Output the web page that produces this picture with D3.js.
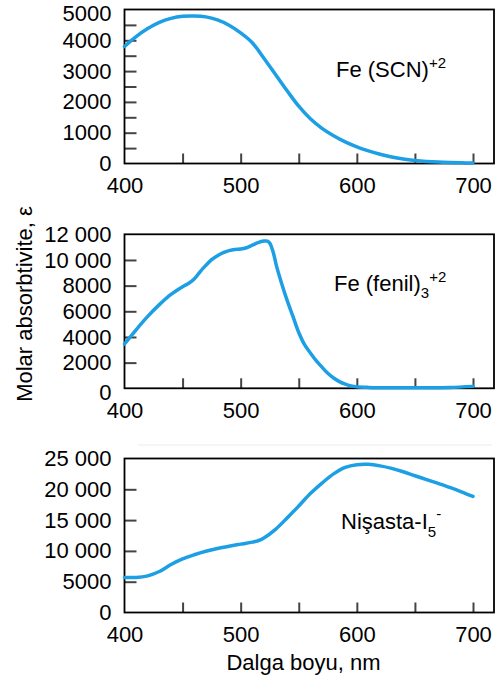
<!DOCTYPE html>
<html>
<head>
<meta charset="utf-8">
<script src="https://cdn.jsdelivr.net/npm/d3@7"></script>
<style>
  body { margin: 0; background: #fff; }
  text { font-family: "Liberation Sans", Arial, sans-serif; }
</style>
</head>
<body>
<svg id="chart" width="499" height="681"></svg>
<script>
// spectra (wavelength in nm, molar absorptivity)
const scnWave = [400,410,420,430,440,450,460,470,480,490,500,510,520,530,540,550,560,570,580,590,600,610,620,630,640,650,660,670,680,690,700];
const scnEps  = [3800,4120,4380,4580,4710,4780,4790,4760,4660,4490,4240,3920,3420,2890,2360,1860,1450,1140,900,700,540,410,300,210,145,100,68,46,32,22,15];

const fenWave = [400,410,420,430,440,450,455,460,465,470,475,480,485,490,495,500,505,510,515,520,523,525,528,531,535,540,545,550,555,560,565,570,575,580,585,590,595,600,610,620,640,660,680,700];
const fenEps  = [3450,4560,5600,6520,7320,7920,8170,8520,9080,9580,10020,10330,10570,10730,10820,10850,10950,11150,11350,11470,11470,11320,10600,9480,8250,6850,5600,4350,3400,2750,2150,1650,1170,800,520,320,190,120,70,50,40,45,70,150];

const nisWave = [400,410,420,430,440,450,460,470,480,490,500,510,515,520,530,540,550,560,570,580,590,600,610,620,630,640,650,660,670,680,690,700];
const nisEps  = [5700,5680,5950,6650,7780,8700,9380,9950,10400,10770,11100,11420,11650,12100,13500,15350,17300,19300,21000,22500,23550,24000,24050,23800,23400,22850,22200,21580,20950,20300,19600,18850];

// tick labels
const xLabels = [400, 500, 600, 700];
const xMinor  = [450, 500, 550, 600, 650, 700];
const scnLabels = [0, 1000, 2000, 3000, 4000, 5000];
const scnTicks  = [500, 1000, 1500, 2000, 2500, 3000, 3500, 4000, 4500];
const fenLabels = [0, 2000, 4000, 6000, 8000, 10000, 12000];
const fenTicks  = [2000, 4000, 6000, 8000, 10000];
const nisLabels = [0, 5000, 10000, 15000, 20000, 25000];
const nisTicks  = [5000, 10000, 15000, 20000];

const svg = d3.select("#chart");
const boxLeft = 124.5, boxRight = 494, panelH = 154;
const blue = "#1c9fe4";
const font = "Liberation Sans, Arial, sans-serif";

const x = d3.scaleLinear().domain([400, 700]).range([124.5, 473]);

function fmt(v) {
    return v >= 10000 ? d3.format(",")(v).replace(",", " ") : String(v);
}

// nudge: a few labels sit a little off their tick in the original
const panels = [
    { wave: scnWave, eps: scnEps, yMax: 5000,  top: 9.5,   labels: scnLabels, ticks: scnTicks, nudge: { 5000: 3.5 } },
    { wave: fenWave, eps: fenEps, yMax: 12000, top: 234.3, labels: fenLabels, ticks: fenTicks, nudge: { 0: 4 } },
    { wave: nisWave, eps: nisEps, yMax: 25000, top: 458.5, labels: nisLabels, ticks: nisTicks, nudge: {} }
];

// faint rule above the last panel
svg.append("line")
    .attr("x1", 138).attr("x2", 492).attr("y1", 445).attr("y2", 445)
    .attr("stroke", "#ececec").attr("stroke-width", 1);

panels.forEach(p => {
    const bottom = p.top + panelH;
    const y = d3.scaleLinear().domain([0, p.yMax]).range([bottom, p.top]);
    const g = svg.append("g");

    // inward ticks
    g.append("g")
        .attr("transform", `translate(${boxLeft},0)`)
        .call(d3.axisRight(y).tickValues(p.ticks).tickSize(12).tickFormat(""))
        .call(a => a.select(".domain").remove())
        .selectAll("line").attr("stroke", "#444").attr("stroke-width", 2);

    g.append("g")
        .attr("transform", `translate(0,${bottom})`)
        .call(d3.axisTop(x).tickValues(xMinor).tickSize(10).tickFormat(""))
        .call(a => a.select(".domain").remove())
        .selectAll("line").attr("stroke", "#444").attr("stroke-width", 2);

    // labels outside
    g.append("g")
        .attr("transform", `translate(${boxLeft},0)`)
        .call(d3.axisLeft(y).tickValues(p.labels).tickSize(0).tickPadding(13).tickFormat(fmt))
        .attr("font-size", 22).attr("font-family", font)
        .call(a => a.select(".domain").remove())
        .selectAll("text").attr("fill", "#000")
        .attr("y", d => p.nudge[d] || 0);

    g.append("g")
        .attr("transform", `translate(0,${bottom})`)
        .call(d3.axisBottom(x).tickValues(xLabels).tickSize(0).tickPadding(14))
        .attr("font-size", 22).attr("font-family", font)
        .call(a => a.select(".domain").remove())
        .selectAll("text").attr("fill", "#000");

    // frame
    g.append("rect")
        .attr("x", boxLeft).attr("y", p.top)
        .attr("width", boxRight - boxLeft).attr("height", panelH)
        .attr("fill", "none").attr("stroke", "#000").attr("stroke-width", 1.8);

    // spectrum
    const line = d3.line()
        .x(d => x(d[0]))
        .y(d => y(d[1]))
        .curve(d3.curveCatmullRom.alpha(0.5));

    g.append("path")
        .datum(d3.zip(p.wave, p.eps))
        .attr("d", line)
        .attr("fill", "none")
        .attr("stroke", blue)
        .attr("stroke-width", 3.5)
        .attr("stroke-linecap", "round");
});

// species names
const t1 = svg.append("text").attr("x", 336).attr("y", 77).attr("font-size", 22);
t1.append("tspan").text("Fe (SCN)");
t1.append("tspan").attr("font-size", 15).attr("dy", -9).text("+2");

const t2 = svg.append("text").attr("x", 334).attr("y", 291).attr("font-size", 22);
t2.append("tspan").text("Fe (fenil)");
t2.append("tspan").attr("font-size", 15).attr("dy", 7).text("3");
t2.append("tspan").attr("font-size", 15).attr("dy", -16).text("+2");

const t3 = svg.append("text").attr("x", 341).attr("y", 529).attr("font-size", 22);
t3.append("tspan").text("Nişasta-I");
t3.append("tspan").attr("font-size", 15).attr("dy", 8).text("5");
t3.append("tspan").attr("font-size", 15).attr("dy", -18).text("-");

// axis titles
svg.append("text")
    .attr("transform", "translate(32,304) rotate(-90)")
    .attr("text-anchor", "middle")
    .attr("font-size", 22)
    .text("Molar absorbtivite, ε");

svg.append("text")
    .attr("x", 303.5).attr("y", 670)
    .attr("text-anchor", "middle")
    .attr("font-size", 22)
    .text("Dalga boyu, nm");
</script>
</body>
</html>
